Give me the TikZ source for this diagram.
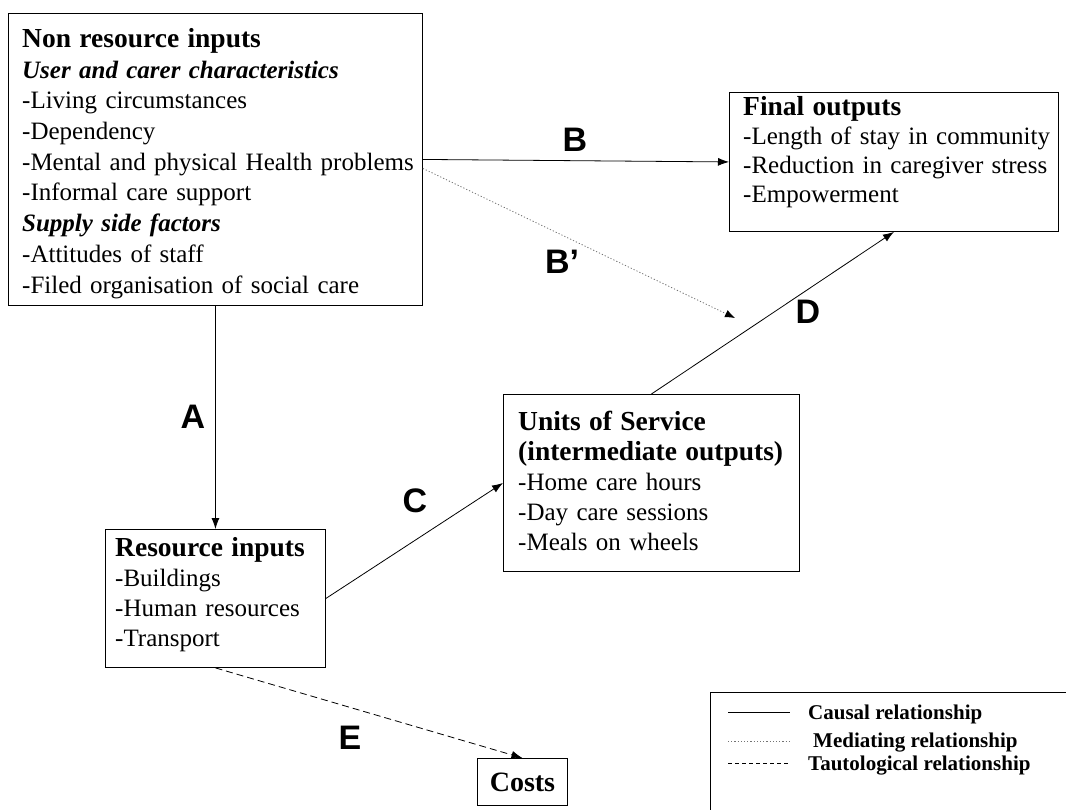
\documentclass[tikz,border=0pt]{standalone}
\usepackage{fontspec}
\setmainfont{Liberation Serif}
\newfontfamily\lblfont{Liberation Sans}
\usetikzlibrary{arrows.meta}
\newcommand\boxhead[1]{{\fontsize{27.5}{30}\selectfont\bfseries #1}}
\newcommand\boxsub[1]{{\bfseries\itshape #1}}
\tikzset{
  box/.style={draw, line width=0.9pt, inner sep=0pt, anchor=north west},
  txt/.style={inner sep=0pt, anchor=base west, align=left, text width=420pt, font=\fontsize{25}{30}\selectfont},
  lbl/.style={font=\lblfont\bfseries\fontsize{34}{34}\selectfont, inner sep=0pt},
  tip/.style={-{Latex[length=11pt,width=8pt]}},
  causal/.style={line width=0.8pt},
  mediating/.style={line width=0.8pt, dash pattern=on 1.2pt off 2pt, black!55},
  tauto/.style={line width=0.8pt, dash pattern=on 7pt off 4pt},
  legtxt/.style={inner sep=0pt, anchor=base west, font=\bfseries\fontsize{21}{24}\selectfont}
}
\begin{document}
\begin{tikzpicture}[x=1pt,y=-1pt]
\useasboundingbox (0,0) rectangle (1066,810);

% boxes
\node[box, minimum width=414pt, minimum height=292pt] (nonres) at (8,13) {};
\node[box, minimum width=329pt, minimum height=139pt] (final) at (729,92) {};
\node[box, minimum width=296pt, minimum height=177pt] (units) at (503,394) {};
\node[box, minimum width=220pt, minimum height=138pt] (res) at (105,529) {};
\node[box, minimum width=90pt, minimum height=47pt, font=\bfseries\fontsize{28}{30}\selectfont] (costs) at (477,758) {Costs};

% box texts
\node[txt, font=\fontsize{25}{30.7}\selectfont] (nonrestxt) at (22,47.5) {\boxhead{Non resource inputs}\\
\boxsub{User and carer characteristics}\\
-Living circumstances\\
-Dependency\\
-Mental and physical Health problems\\
-Informal care support\\
\boxsub{Supply side factors}\\
-Attitudes of staff\\
-Filed organisation of social care};

\node[txt, font=\fontsize{25}{29}\selectfont] (finaltxt) at (743,116) {\boxhead{Final outputs}\\
-Length of stay in community\\
-Reduction in caregiver stress\\
-Empowerment};

\node[txt] (unitstxt) at (518,430) {\boxhead{Units of Service}\\
\boxhead{(intermediate outputs)}\\
-Home care hours\\
-Day care sessions\\
-Meals on wheels};

\node[txt] (restxt) at (115,556) {\boxhead{Resource inputs}\\
-Buildings\\
-Human resources\\
-Transport};

% connectors
\coordinate (bpend) at (735,318);
\draw[causal, tip] (nonres.south -| res.north) -- (res.north);
\draw[causal, tip] (nonres.east) -- (final.west);
\draw[mediating, -{Latex[length=10pt,width=8pt,black]}] ([yshift=-9pt]nonres.east) -- (bpend);
\draw[causal, tip] (res.east) -- (units.west);
\draw[causal, tip] (units.north) -- (final.south);
\draw[tauto, tip] (res.south) -- (costs.north);

% connector labels
\node[lbl] (la) at (193,417) {A};
\node[lbl] (lb) at (575,140) {B};
\node[lbl] (lbp) at (562,262) {B’};
\node[lbl] (lc) at (415,501) {C};
\node[lbl] (ld) at (808,312) {D};
\node[lbl] (le) at (350,738) {E};

% legend
\node[box, minimum width=400pt, minimum height=160pt] (legend) at (710,692) {};
\coordinate (l1a) at (728,712); \coordinate (l1b) at (790,712);
\coordinate (l2a) at (728,741); \coordinate (l2b) at (790,741);
\coordinate (l3a) at (728,763); \coordinate (l3b) at (790,763);
\draw[causal] (l1a) -- (l1b);
\draw[mediating] (l2a) -- (l2b);
\draw[tauto, dash pattern=on 4pt off 3pt] (l3a) -- (l3b);
\node[legtxt] (lt1) at (808,719) {Causal relationship};
\node[legtxt] (lt2) at (813,747) {Mediating relationship};
\node[legtxt] (lt3) at (808,770) {Tautological relationship};
\end{tikzpicture}
\end{document}
